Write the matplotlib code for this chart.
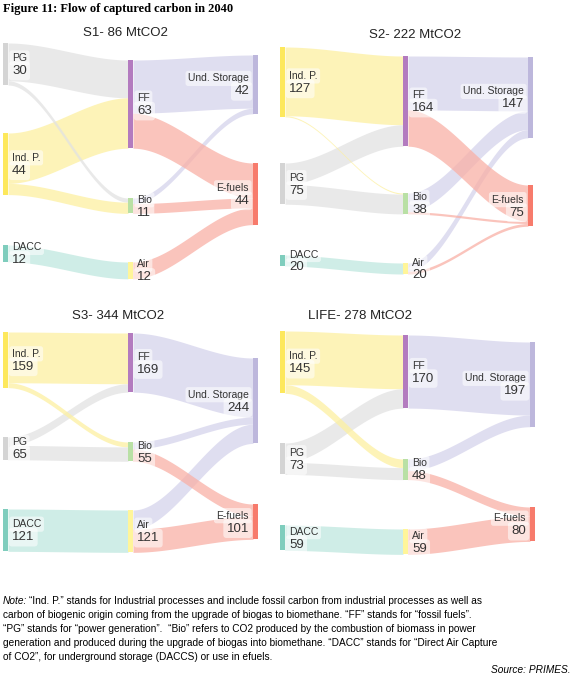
import numpy as np
import matplotlib
matplotlib.use("Agg")
import matplotlib.pyplot as plt

plt.rcParams["font.family"] = ["Liberation Sans", "DejaVu Sans"]

NAMES = ["PG", "Ind. P.", "DACC", "FF", "Bio", "Air", "Und. Storage", "E-fuels"]
COLUMN = [0, 0, 0, 1, 1, 1, 2, 2]

S1_VALUES = [30, 44, 12, 63, 11, 12, 42, 44]
S1_FLOWS = [("PG", "FF", 27), ("PG", "Bio", 3), ("Ind. P.", "FF", 36), ("Ind. P.", "Bio", 8),
            ("DACC", "Air", 12), ("FF", "Und. Storage", 38), ("FF", "E-fuels", 25),
            ("Bio", "Und. Storage", 4), ("Bio", "E-fuels", 7), ("Air", "E-fuels", 12)]

S2_VALUES = [75, 127, 20, 164, 38, 20, 147, 75]
S2_FLOWS = [("Ind. P.", "FF", 125), ("Ind. P.", "Bio", 2), ("PG", "FF", 39), ("PG", "Bio", 36),
            ("DACC", "Air", 20), ("FF", "Und. Storage", 98), ("FF", "E-fuels", 66),
            ("Bio", "Und. Storage", 34), ("Bio", "E-fuels", 4),
            ("Air", "Und. Storage", 15), ("Air", "E-fuels", 5)]

S3_VALUES = [65, 159, 121, 169, 55, 121, 244, 101]
S3_FLOWS = [("Ind. P.", "FF", 145), ("Ind. P.", "Bio", 14), ("PG", "FF", 24), ("PG", "Bio", 41),
            ("DACC", "Air", 121), ("FF", "Und. Storage", 169),
            ("Bio", "Und. Storage", 20), ("Bio", "E-fuels", 35),
            ("Air", "Und. Storage", 55), ("Air", "E-fuels", 66)]

LIFE_VALUES = [73, 145, 59, 170, 48, 59, 197, 80]
LIFE_FLOWS = [("Ind. P.", "FF", 125), ("Ind. P.", "Bio", 20), ("PG", "FF", 45), ("PG", "Bio", 28),
              ("DACC", "Air", 59), ("FF", "Und. Storage", 170),
              ("Bio", "Und. Storage", 27), ("Bio", "E-fuels", 21), ("Air", "E-fuels", 59)]

TITLES = ["S1- 86 MtCO2", "S2- 222 MtCO2", "S3- 344 MtCO2", "LIFE- 278 MtCO2"]

# layout (pixels): column x positions, node tops, px per MtCO2, title position
PANELS = [
    dict(values=S1_VALUES, flows=S1_FLOWS, x=[3, 128, 253], scale=1.4, title=(125, 33),
         tops=[43, 133, 245, 60, 198, 262, 55, 163]),
    dict(values=S2_VALUES, flows=S2_FLOWS, x=[280, 403, 528], scale=0.55, title=(415, 35),
         tops=[163, 47, 255, 56, 193, 263, 57, 185]),
    dict(values=S3_VALUES, flows=S3_FLOWS, x=[3, 128, 253], scale=0.35, title=(118, 316),
         tops=[437, 332, 509, 333, 442, 510, 358, 504]),
    dict(values=LIFE_VALUES, flows=LIFE_FLOWS, x=[280, 403, 530], scale=0.43, title=(360, 316),
         tops=[443, 331, 525, 335, 459, 529, 342, 507]),
]

NODE_COLORS = {"PG": "#d4d4d4", "Ind. P.": "#fde85c", "DACC": "#7fcdbd", "FF": "#b37bbf",
               "Bio": "#b9e0a5", "Air": "#fff59a", "Und. Storage": "#bdb7dc", "E-fuels": "#f77b6c"}
BAND_COLORS = {"PG": "#e2e2e2", "Ind. P.": "#fdf0a0", "DACC": "#bfe8df",
               "Und. Storage": "#d5d3ec", "E-fuels": "#f9b0a6"}
W = 5

fig = plt.figure(figsize=(5.75, 6.78), dpi=100)
ax = fig.add_axes([0, 0, 1, 1])
ax.set_xlim(0, 575)
ax.set_ylim(678, 0)
ax.axis("off")


def draw_panel(k, p):
    vals, tops, sc = p["values"], p["tops"], p["scale"]
    idx = {n: i for i, n in enumerate(NAMES)}
    out_off = {n: 0.0 for n in NAMES}
    in_off = {n: 0.0 for n in NAMES}
    flows_out = sorted(p["flows"], key=lambda f: (tops[idx[f[0]]], tops[idx[f[1]]]))
    start = {}
    for s, t, v in flows_out:
        start[(s, t)] = tops[idx[s]] + out_off[s]
        out_off[s] += v * sc
    flows_in = sorted(p["flows"], key=lambda f: (tops[idx[f[1]]], tops[idx[f[0]]]))
    tt = np.linspace(0, 1, 60)
    ease = 3 * tt ** 2 - 2 * tt ** 3
    for s, t, v in flows_in:
        y1 = tops[idx[t]] + in_off[t]
        in_off[t] += v * sc
        y0 = start[(s, t)]
        x0 = p["x"][COLUMN[idx[s]]] + W
        x1 = p["x"][COLUMN[idx[t]]]
        xs = x0 + (x1 - x0) * tt
        ytop = y0 + (y1 - y0) * ease
        col = BAND_COLORS[s] if COLUMN[idx[s]] == 0 else BAND_COLORS[t]
        ax.fill_between(xs, ytop, ytop + v * sc, color=col, alpha=0.75, lw=0)
    for i, n in enumerate(NAMES):
        x = p["x"][COLUMN[i]]
        h = vals[i] * sc
        ax.add_patch(plt.Rectangle((x, tops[i]), W, h, color=NODE_COLORS[n], lw=0))
        yc = tops[i] + h / 2
        box = dict(boxstyle="round,pad=0.25", fc="white", ec="none", alpha=0.55)
        if COLUMN[i] < 2:
            tx, ha = x + W + 4, "left"
        else:
            tx, ha = x - 4, "right"
        ax.text(tx, yc - 6, n, fontsize=7.5, ha=ha, va="center", color="#333333", bbox=box)
        ax.text(tx, yc + 7, str(vals[i]), fontsize=9.5, ha=ha, va="center", color="#333333",
                bbox=box)
    ax.text(*p["title"], TITLES[k], fontsize=9.5, ha="center", va="center", color="#222222")


for k, p in enumerate(PANELS):
    draw_panel(k, p)

ax.text(3, 9, "Figure 11: Flow of captured carbon in 2040", fontsize=9, fontweight="bold",
        family=["Liberation Serif", "DejaVu Serif"], va="center")

NOTE_LINES = [
    "“Ind. P.” stands for Industrial processes and include fossil carbon from industrial processes as well as",
    "carbon of biogenic origin coming from the upgrade of biogas to biomethane. “FF” stands for “fossil fuels”.",
    "“PG” stands for “power generation”.  “Bio” refers to CO2 produced by the combustion of biomass in power",
    "generation and produced during the upgrade of biogas into biomethane. “DACC” stands for “Direct Air Capture",
    "of CO2”, for underground storage (DACCS) or use in efuels.",
]
ax.text(3, 601, "Note:", fontsize=7.3, style="italic", va="center")
for k, line in enumerate(NOTE_LINES):
    ax.text(29 if k == 0 else 3, 601 + k * 14, line, fontsize=7.3, va="center")
ax.text(571, 670, "Source: PRIMES.", fontsize=7.3, style="italic", ha="right", va="center")

fig.savefig("out.png", dpi=100)
